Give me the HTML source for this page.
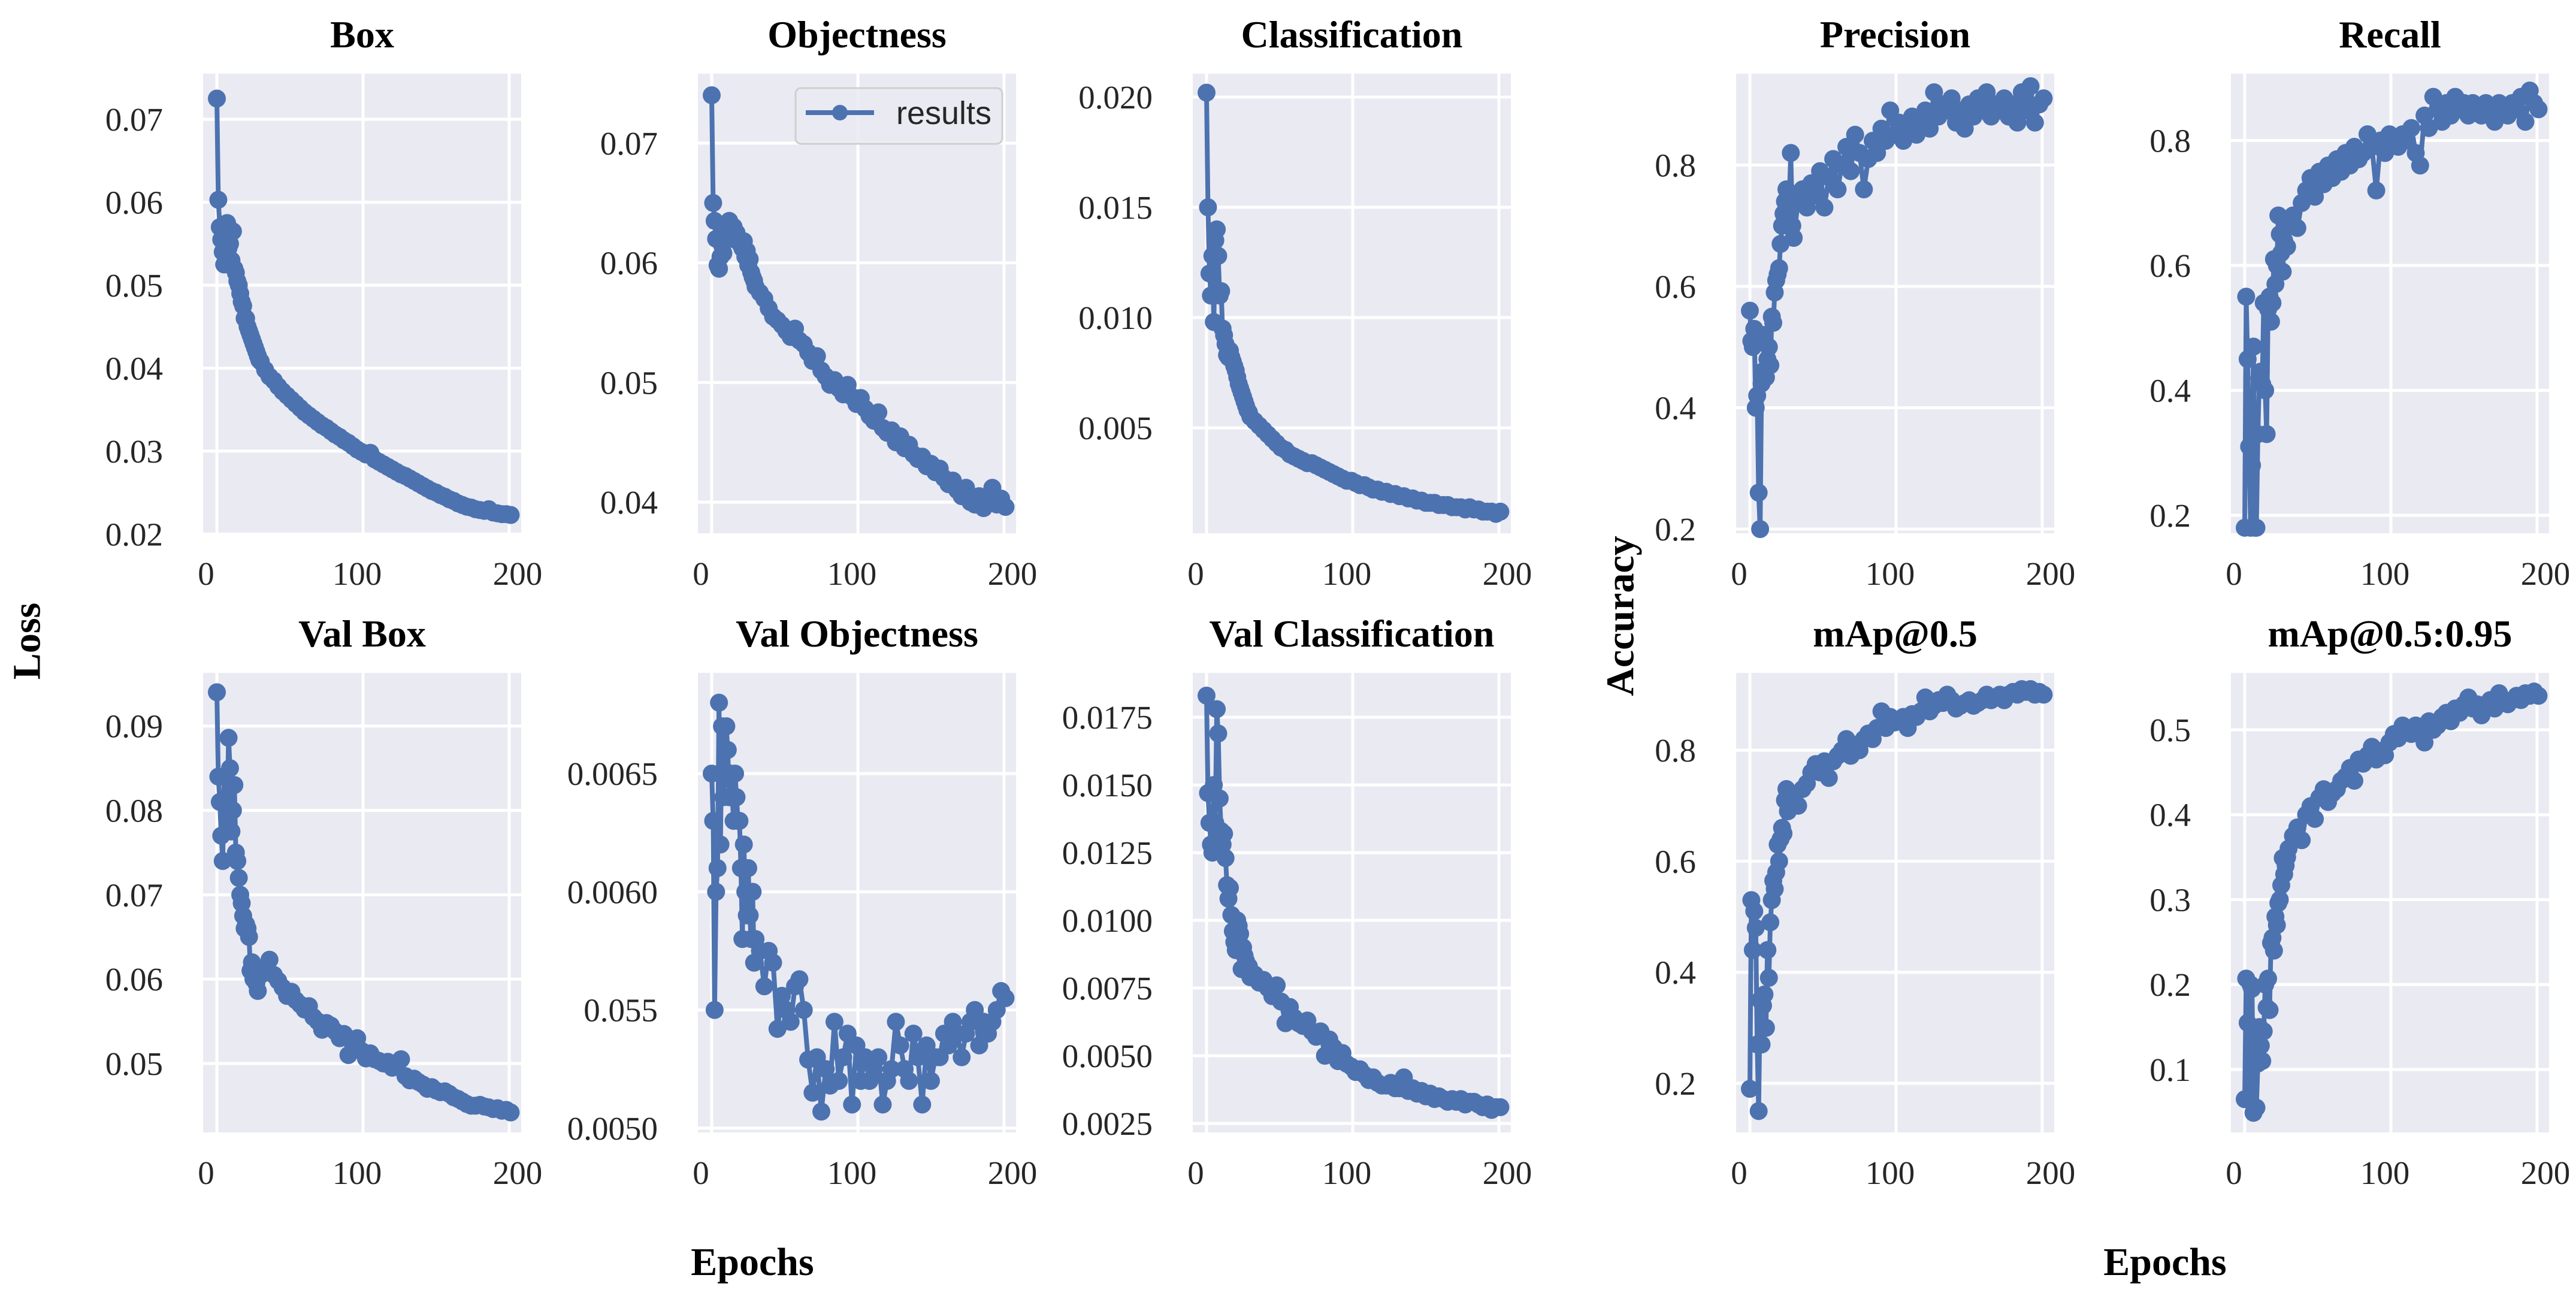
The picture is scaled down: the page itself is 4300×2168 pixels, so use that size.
<!DOCTYPE html>
<html><head><meta charset="utf-8">
<style>
html,body{margin:0;padding:0;background:#fff;}
svg{display:block;}
.tick{font-family:"Liberation Serif",serif;font-size:55px;fill:#262626;}
.title{font-family:"Liberation Serif",serif;font-size:64px;font-weight:bold;fill:#000;}
.axlab{font-family:"Liberation Serif",serif;font-size:66px;font-weight:bold;fill:#000;}
</style></head>
<body>
<svg id="fig" width="4300" height="2168" viewBox="0 0 4300 2168" xmlns="http://www.w3.org/2000/svg">
<text class="axlab" x="45" y="1070" text-anchor="middle" transform="rotate(-90 45 1070)" dominant-baseline="central">Loss</text>
<text class="axlab" x="2705" y="1028" text-anchor="middle" transform="rotate(-90 2705 1028)" dominant-baseline="central">Accuracy</text>
<text class="axlab" x="1256" y="2128" text-anchor="middle">Epochs</text>
<text class="axlab" x="3614" y="2128" text-anchor="middle">Epochs</text>
</svg>
<script>
const epochs = [0,1,2,3,4,5,6,7,8,9,10,11,12,13,14,15,16,17,18,19,20,21,22,23,24,25,26,27,28,29,30,33,36,39,42,45,48,51,54,57,60,63,66,69,72,75,78,81,84,87,90,93,96,99,102,105,108,111,114,117,120,123,126,129,132,135,138,141,144,147,150,153,156,159,162,165,168,171,174,177,180,183,186,189,192,195,198,201];
const xTicks = [0,100,200];
const xTickLabels = ["0","100","200"];

const boxVals = [0.0725,0.0603,0.057,0.0555,0.054,0.0525,0.056,0.0575,0.0545,0.055,0.053,0.0565,0.052,0.0515,0.0505,0.050,0.049,0.048,0.0475,0.046,0.046,0.045,0.0445,0.044,0.0435,0.043,0.0425,0.042,0.0415,0.041,0.0408,
0.0398,0.039,0.0385,0.0378,0.0372,0.0367,0.0362,0.0357,0.0352,0.0347,0.0343,0.0339,0.0335,0.0331,0.0328,0.0324,0.032,0.0317,0.0313,0.031,0.0306,0.0302,0.0299,0.0296,0.0298,0.029,0.0287,0.0284,0.0281,0.0278,0.0275,0.0272,0.027,0.0267,0.0264,0.0261,0.0258,0.0255,0.0252,0.025,0.0247,0.0245,0.0242,0.024,0.0237,0.0235,0.0233,0.0232,0.023,0.0229,0.0228,0.023,0.0226,0.0225,0.0224,0.0224,0.0223];
const objVals = [0.074,0.065,0.0635,0.062,0.0598,0.0595,0.0605,0.0615,0.0608,0.0625,0.0632,0.0628,0.0635,0.062,0.0628,0.063,0.0622,0.0625,0.0618,0.062,0.0615,0.0612,0.0618,0.0605,0.061,0.0598,0.0603,0.0592,0.0588,0.0585,0.058,
0.0575,0.057,0.0562,0.0555,0.0552,0.0548,0.0543,0.0538,0.0545,0.0535,0.0532,0.0525,0.0518,0.0522,0.051,0.0505,0.0498,0.0502,0.0495,0.049,0.0498,0.0488,0.0482,0.0487,0.0478,0.0472,0.0468,0.0475,0.0462,0.0458,0.046,0.045,0.0455,0.0445,0.0448,0.0440,0.0436,0.0438,0.043,0.0432,0.0425,0.0428,0.042,0.0415,0.0418,0.041,0.0405,0.0412,0.040,0.0398,0.0405,0.0395,0.0402,0.0412,0.0398,0.0403,0.0396];
const clsVals = [0.0202,0.015,0.012,0.011,0.0128,0.0098,0.0135,0.014,0.0128,0.011,0.0112,0.0095,0.0092,0.0088,0.0083,0.0082,0.0085,0.0082,0.008,0.0078,0.0076,0.0073,0.007,0.0068,0.0066,0.0064,0.0062,0.006,0.0058,0.0057,0.0055,
0.0053,0.0051,0.0049,0.0047,0.0045,0.0043,0.0041,0.004,0.0038,0.0037,0.0036,0.0035,0.0034,0.0034,0.0033,0.0032,0.0031,0.003,0.0029,0.0028,0.0027,0.0026,0.0026,0.0025,0.0024,0.0024,0.0023,0.0022,0.0022,0.0021,0.0021,0.002,0.002,0.0019,0.0019,0.0018,0.0018,0.0017,0.0017,0.0016,0.0016,0.0016,0.0015,0.0015,0.0015,0.0014,0.0014,0.0014,0.0013,0.0014,0.0013,0.0013,0.0012,0.0012,0.0012,0.0011,0.0012];
const precVals = [0.56,0.51,0.50,0.53,0.40,0.42,0.26,0.20,0.44,0.46,0.52,0.45,0.48,0.50,0.47,0.55,0.54,0.59,0.61,0.62,0.63,0.67,0.70,0.72,0.74,0.76,0.73,0.75,0.82,0.70,0.68,
0.74,0.76,0.73,0.77,0.75,0.79,0.73,0.78,0.81,0.76,0.80,0.83,0.79,0.85,0.82,0.76,0.81,0.84,0.82,0.86,0.84,0.89,0.85,0.87,0.84,0.86,0.88,0.85,0.87,0.89,0.86,0.92,0.88,0.90,0.89,0.91,0.87,0.89,0.86,0.90,0.88,0.91,0.89,0.92,0.88,0.90,0.89,0.91,0.88,0.90,0.87,0.92,0.89,0.93,0.87,0.90,0.91];
const recallVals = [0.18,0.55,0.45,0.31,0.18,0.28,0.47,0.18,0.18,0.33,0.42,0.43,0.41,0.54,0.40,0.33,0.53,0.55,0.51,0.54,0.61,0.57,0.60,0.68,0.65,0.62,0.59,0.64,0.66,0.63,0.67,
0.68,0.66,0.70,0.72,0.74,0.71,0.75,0.73,0.76,0.74,0.77,0.75,0.78,0.76,0.79,0.77,0.78,0.81,0.79,0.72,0.80,0.78,0.81,0.80,0.79,0.81,0.80,0.82,0.78,0.76,0.84,0.82,0.87,0.85,0.83,0.86,0.84,0.87,0.85,0.86,0.84,0.86,0.85,0.84,0.86,0.85,0.83,0.86,0.85,0.84,0.86,0.85,0.87,0.83,0.88,0.86,0.85];
const valBoxVals = [0.094,0.084,0.081,0.077,0.074,0.084,0.081,0.079,0.0886,0.085,0.0775,0.08,0.083,0.075,0.074,0.072,0.070,0.069,0.0675,0.066,0.0665,0.066,0.065,0.061,0.062,0.060,0.0615,0.0595,0.0586,0.061,0.0605,
0.061,0.0623,0.0605,0.0598,0.059,0.058,0.0585,0.0575,0.057,0.0564,0.0568,0.0555,0.055,0.054,0.0548,0.0545,0.0538,0.053,0.0535,0.051,0.0528,0.053,0.0515,0.0506,0.0512,0.0505,0.0503,0.050,0.0502,0.0495,0.050,0.0505,0.0485,0.048,0.0482,0.0478,0.0475,0.047,0.0472,0.0468,0.0466,0.0467,0.0464,0.046,0.0458,0.0455,0.0452,0.045,0.045,0.0451,0.0449,0.0448,0.0446,0.0447,0.0444,0.0445,0.0442];
const valObjVals = [0.0065,0.0063,0.0055,0.0060,0.0061,0.0068,0.0062,0.0067,0.0064,0.0065,0.0067,0.0066,0.0064,0.0065,0.0064,0.0063,0.0065,0.0064,0.0063,0.0063,0.0061,0.0058,0.0062,0.0060,0.0059,0.0061,0.0059,0.0058,0.0060,0.0057,0.0058,
0.00575,0.0056,0.00575,0.0057,0.00542,0.00556,0.0055,0.00545,0.0056,0.00563,0.0055,0.00529,0.00515,0.0053,0.00507,0.00525,0.00518,0.00545,0.0052,0.0053,0.0054,0.0051,0.00535,0.0052,0.0053,0.0052,0.00525,0.0053,0.0051,0.0052,0.00525,0.00545,0.00535,0.00525,0.0052,0.0054,0.0053,0.0051,0.00535,0.0052,0.0053,0.0053,0.0054,0.00535,0.00545,0.0054,0.0053,0.0054,0.00545,0.0055,0.00535,0.00545,0.0054,0.00545,0.0055,0.00558,0.00555];
const valClsVals = [0.0183,0.0147,0.0136,0.0128,0.0125,0.015,0.0136,0.0178,0.0169,0.0145,0.0133,0.0128,0.0132,0.0123,0.0113,0.0108,0.0112,0.0102,0.0096,0.0092,0.0089,0.0100,0.0098,0.0095,0.0082,0.0090,0.0087,0.0085,0.0081,0.0083,0.0079,
0.0080,0.0077,0.0078,0.0075,0.0072,0.0076,0.0070,0.0062,0.0068,0.0064,0.0062,0.0061,0.0063,0.0059,0.0057,0.0059,0.0050,0.0056,0.0053,0.0048,0.0051,0.0047,0.0046,0.0044,0.0045,0.0043,0.0041,0.0042,0.0040,0.0039,0.0039,0.0040,0.0038,0.0038,0.0042,0.0037,0.0038,0.0036,0.0037,0.0035,0.0036,0.0034,0.0035,0.0034,0.0033,0.0034,0.0033,0.0034,0.0032,0.0033,0.0033,0.0032,0.0031,0.0032,0.0030,0.0031,0.0031];
const map50Vals = [0.19,0.53,0.44,0.51,0.48,0.27,0.15,0.35,0.27,0.34,0.36,0.30,0.44,0.39,0.49,0.53,0.565,0.55,0.58,0.63,0.60,0.64,0.66,0.65,0.71,0.73,0.69,0.70,0.72,0.71,0.72,
0.70,0.73,0.74,0.76,0.775,0.76,0.78,0.75,0.78,0.79,0.80,0.82,0.79,0.81,0.80,0.82,0.83,0.82,0.84,0.87,0.84,0.86,0.85,0.855,0.86,0.84,0.865,0.86,0.87,0.895,0.87,0.88,0.89,0.885,0.90,0.89,0.875,0.88,0.885,0.89,0.88,0.885,0.89,0.9,0.89,0.895,0.9,0.89,0.9,0.905,0.9,0.91,0.905,0.91,0.9,0.905,0.9];
const map95Vals = [0.065,0.207,0.155,0.065,0.2,0.195,0.049,0.145,0.055,0.107,0.15,0.128,0.11,0.145,0.2,0.173,0.207,0.17,0.249,0.255,0.24,0.28,0.27,0.296,0.3,0.317,0.349,0.33,0.34,0.35,0.36,
0.375,0.385,0.37,0.40,0.41,0.395,0.42,0.43,0.415,0.425,0.43,0.44,0.445,0.455,0.44,0.465,0.46,0.47,0.48,0.465,0.475,0.47,0.485,0.495,0.49,0.505,0.5,0.495,0.505,0.5,0.485,0.51,0.5,0.505,0.515,0.52,0.51,0.525,0.52,0.53,0.538,0.525,0.53,0.517,0.53,0.535,0.525,0.543,0.535,0.53,0.535,0.54,0.535,0.543,0.54,0.545,0.54];

const boxTicks = [0.02,0.03,0.04,0.05,0.06,0.07];
const boxTickLabels = ["0.02","0.03","0.04","0.05","0.06","0.07"];
const objTicks = [0.04,0.05,0.06,0.07];
const objTickLabels = ["0.04","0.05","0.06","0.07"];
const clsTicks = [0.005,0.010,0.015,0.020];
const clsTickLabels = ["0.005","0.010","0.015","0.020"];
const accTicks = [0.2,0.4,0.6,0.8];
const accTickLabels = ["0.2","0.4","0.6","0.8"];
const valBoxTicks = [0.05,0.06,0.07,0.08,0.09];
const valBoxTickLabels = ["0.05","0.06","0.07","0.08","0.09"];
const valObjTicks = [0.005,0.0055,0.006,0.0065];
const valObjTickLabels = ["0.0050","0.055","0.0060","0.0065"];
const valClsTicks = [0.0025,0.005,0.0075,0.01,0.0125,0.015,0.0175];
const valClsTickLabels = ["0.0025","0.0050","0.0075","0.0100","0.0125","0.0150","0.0175"];
const map95Ticks = [0.1,0.2,0.3,0.4,0.5];
const map95TickLabels = ["0.1","0.2","0.3","0.4","0.5"];

const NS = "http://www.w3.org/2000/svg";
const svg = document.getElementById('fig');
const COLS = [339,1165,1991,2898,3724];
const ROWS = [123,1123];
const PW = 531, PH = 767;

function mk(tag, attrs, parent){
  const e = document.createElementNS(NS, tag);
  for (const k in attrs) e.setAttribute(k, attrs[k]);
  (parent||svg).appendChild(e);
  return e;
}

const panels = [
  {name:'box', title:'Box', c:0, r:0, vals:boxVals, ylim:[0.0201,0.0755], ticks:boxTicks, labels:boxTickLabels},
  {name:'objectness', title:'Objectness', c:1, r:0, vals:objVals, ylim:[0.0374,0.0758], ticks:objTicks, labels:objTickLabels, legend:true},
  {name:'classification', title:'Classification', c:2, r:0, vals:clsVals, ylim:[0.00022,0.02106], ticks:clsTicks, labels:clsTickLabels},
  {name:'precision', title:'Precision', c:3, r:0, vals:precVals, ylim:[0.1931,0.9506], ticks:accTicks, labels:accTickLabels},
  {name:'recall', title:'Recall', c:4, r:0, vals:recallVals, ylim:[0.1712,0.907], ticks:accTicks, labels:accTickLabels},
  {name:'val-box', title:'Val Box', c:0, r:1, vals:valBoxVals, ylim:[0.04183,0.0963], ticks:valBoxTicks, labels:valBoxTickLabels},
  {name:'val-objectness', title:'Val Objectness', c:1, r:1, vals:valObjVals, ylim:[0.004982,0.006926], ticks:valObjTicks, labels:valObjTickLabels},
  {name:'val-classification', title:'Val Classification', c:2, r:1, vals:valClsVals, ylim:[0.002168,0.01914], ticks:valClsTicks, labels:valClsTickLabels},
  {name:'map-0-5', title:'mAp@0.5', c:3, r:1, vals:map50Vals, ylim:[0.1115,0.9393], ticks:accTicks, labels:accTickLabels},
  {name:'map-0-5-0-95', title:'mAp@0.5:0.95', c:4, r:1, vals:map95Vals, ylim:[0.0259,0.567], ticks:map95Ticks, labels:map95TickLabels}
];

panels.forEach(p => {
  const L = COLS[p.c], T = ROWS[p.r];
  const xScale = v => L + 23 + (v/200)*488;
  const yScale = v => T + PH - (v - p.ylim[0])/(p.ylim[1]-p.ylim[0])*PH;
  const g = mk('g', {});
  
  
  const bg = mk('rect', {x:L, y:T, width:PW, height:PH, fill:'#eaeaf2'}, g);
  
  
  const t = mk('text', {x:L+PW/2, y:T-44, 'text-anchor':'middle', class:'title'}, g);
  t.textContent = p.title;
  
  
  p.ticks.forEach((tv, i) => {
    const y = yScale(tv);
    const gl = mk('line', {x1:L, x2:L+PW, y1:y, y2:y, stroke:'#fff', 'stroke-width':5}, g);
    
    
    const tl = mk('text', {x:L-67, y:y+19, 'text-anchor':'end', class:'tick'}, g);
    tl.textContent = p.labels[i];
    
    
  });
  xTicks.forEach((xv, i) => {
    const x = xScale(xv);
    const gl = mk('line', {x1:x, x2:x, y1:T, y2:T+PH, stroke:'#fff', 'stroke-width':5}, g);
    
    
    const tl = mk('text', {x:x-(i==0?18:(i==1?10:-14)), y:T+PH+86, 'text-anchor':'middle', class:'tick'}, g);
    tl.textContent = xTickLabels[i];
    
    
  });
  const n = Math.min(epochs.length, p.vals.length);
  let d = '';
  for (let i = 0; i < n; i++) d += (i ? 'L' : 'M') + xScale(epochs[i]).toFixed(1) + ',' + yScale(p.vals[i]).toFixed(1);
  const line = mk('path', {d:d, fill:'none', stroke:'#4c72b0', 'stroke-width':8, 'stroke-linejoin':'round'}, g);
  
  
  for (let i = 0; i < n; i++) {
    const c = mk('circle', {cx:xScale(epochs[i]), cy:yScale(p.vals[i]), r:15, fill:'#4c72b0'}, g);
    
    
  }
  if (p.legend) {
    const lg = mk('g', {}, g);
    
    
    mk('rect', {x:1328, y:147, width:345, height:93, rx:9, fill:'#eaeaf2', stroke:'#cfcfcf', 'stroke-width':3, 'fill-opacity':0.85}, lg);
    mk('line', {x1:1345, x2:1459, y1:188, y2:188, stroke:'#4c72b0', 'stroke-width':8}, lg);
    mk('circle', {cx:1402, cy:188, r:13, fill:'#4c72b0'}, lg);
    const lt = mk('text', {x:1496, y:207, 'font-family':'"Liberation Sans",sans-serif', 'font-size':54, fill:'#262626'}, lg);
    lt.textContent = 'results';
    
    
  }
});
</script>
</body></html>
